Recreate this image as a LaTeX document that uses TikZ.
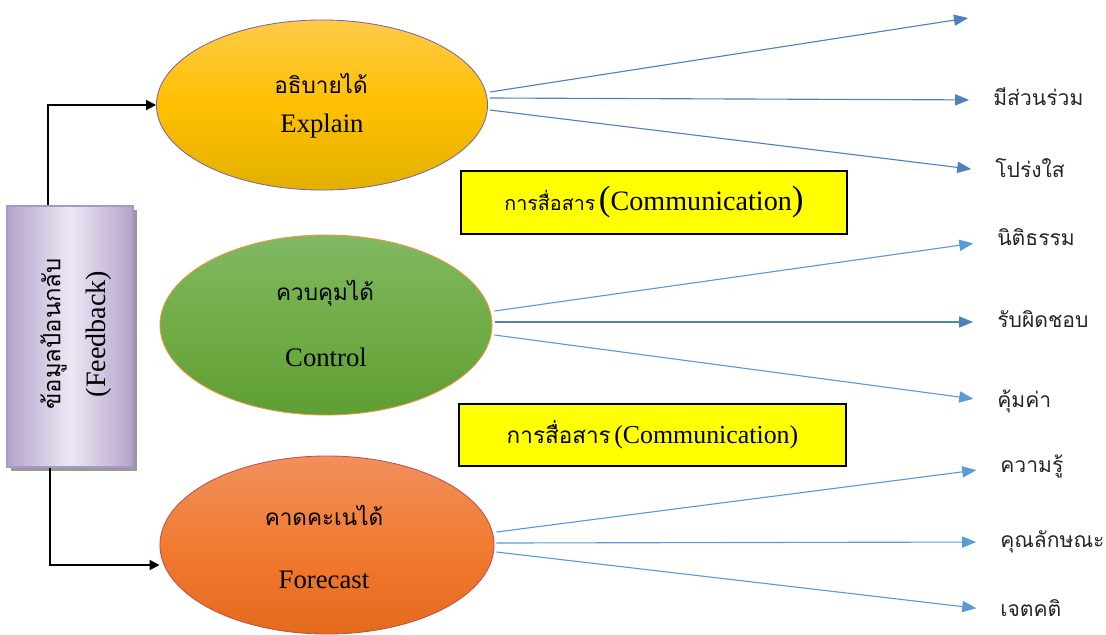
\documentclass[tikz,border=0pt]{standalone}
\usepackage{fontspec}
\setmainfont{Liberation Serif}
\newfontfamily\thai[Script=Thai]{Loma}
\usepackage{tikz}
\usetikzlibrary{arrows.meta, shapes.geometric, positioning, calc, shadows}

\definecolor{explaintop}{HTML}{FFCA48}
\definecolor{explainmid}{HTML}{FFC000}
\definecolor{explainbot}{HTML}{E2B000}
\definecolor{explainline}{HTML}{8064A2}
\definecolor{controltop}{HTML}{80B962}
\definecolor{controlmid}{HTML}{70AD47}
\definecolor{controlbot}{HTML}{5E9E32}
\definecolor{controlline}{HTML}{F79646}
\definecolor{forecasttop}{HTML}{F0905C}
\definecolor{forecastmid}{HTML}{F27B32}
\definecolor{forecastbot}{HTML}{E46A1C}
\definecolor{forecastline}{HTML}{C0504D}
\definecolor{fbside}{HTML}{B4A3CD}
\definecolor{fbmid}{HTML}{ECE8F3}
\definecolor{fbline}{HTML}{A897C8}
\definecolor{commfill}{HTML}{FFFF00}
\definecolor{arrowdark}{HTML}{4F81BD}
\definecolor{arrowlight}{HTML}{5B9BD5}

\begin{document}
\begin{tikzpicture}[x=0.025cm, y=-0.025cm,
  oval/.style={ellipse, draw, line width=0.6pt, inner sep=0pt},
  ovalth/.style={inner sep=0pt, font=\thai\fontsize{16}{19}\selectfont},
  ovalen/.style={inner sep=0pt, font=\fontsize{19}{23}\selectfont},
  lbl/.style={anchor=west, inner sep=0pt, text height=12pt, text depth=4pt,
    font=\thai\fontsize{15}{18}\selectfont, text=black!85},
  commbox/.style={draw, line width=0.8pt, fill=commfill, inner sep=0pt},
  blarrow/.style={-{Triangle[length=10pt,width=8pt]}, line width=0.8pt, shorten >=17pt},
  fbarrow/.style={-{Triangle[length=7pt,width=7pt]}, line width=1.3pt, black}
]
\useasboundingbox (0,0) rectangle (1106,634);

% Feedback box
\node[draw=fbline, line width=0.8pt, minimum width=3.15cm, minimum height=6.525cm,
  left color=fbside, right color=fbside, middle color=fbmid,
  drop shadow={shadow xshift=3pt, shadow yshift=-3pt, fill=black!40, opacity=1}]
  (fb) at (70,336.5) {};
\node[rotate=90, align=center, font=\fontsize{20}{32}\selectfont] (fbtext) at (76,334)
  {{\thai\fontsize{17}{20}\selectfont ข้อมูลป้อนกลับ}\\(Feedback)};

% Explain
\node[oval, draw=explainline, minimum width=8.275cm, minimum height=4.25cm,
  top color=explaintop, bottom color=explainbot, middle color=explainmid]
  (explain) at (322,105) {};
\node[ovalth] (explainth) at (321,83) {อธิบายได้};
\node[ovalen] (explainen) at (322,126) {Explain};

% Control
\node[oval, draw=controlline, minimum width=8.3cm, minimum height=4.5cm,
  top color=controltop, bottom color=controlbot, middle color=controlmid]
  (control) at (326,325) {};
\node[ovalth] (controlth) at (325,293) {ควบคุมได้};
\node[ovalen] (controlen) at (326,357) {Control};

% Forecast
\node[oval, draw=forecastline, minimum width=8.35cm, minimum height=4.45cm,
  top color=forecasttop, bottom color=forecastbot, middle color=forecastmid]
  (forecast) at (327,545) {};
\node[ovalth] (forecastth) at (324,515) {คาดคะเนได้};
\node[ovalen] (forecasten) at (324,580) {Forecast};

% Communication
\node[commbox, minimum width=9.65cm, minimum height=1.575cm] (comm1) at (654,202.5)
  {{\thai\fontsize{14}{17}\selectfont การสื่อสาร} {\fontsize{25}{29}\selectfont(}{\fontsize{20}{24}\selectfont Communication}{\fontsize{25}{29}\selectfont)}};
\node[commbox, minimum width=9.675cm, minimum height=1.55cm] (comm2) at (652.5,435)
  {{\thai\fontsize{16}{19}\selectfont การสื่อสาร} {\fontsize{18.4}{22}\selectfont (Communication)}};

% Labels
\coordinate (toptip) at (968,18);
\node[lbl] (participate) at (993,100) {มีส่วนร่วม};
\node[lbl] (transparent) at (995,172) {โปร่งใส};
\node[lbl] (rulelaw) at (997,240) {นิติธรรม};
\node[lbl] (account) at (997,322) {รับผิดชอบ};
\node[lbl] (worth) at (997,402) {คุ้มค่า};
\node[lbl] (knowledge) at (1000,467) {ความรู้};
\node[lbl] (trait) at (1000,542) {คุณลักษณะ};
\node[lbl] (attitude) at (1000,611) {เจตคติ};

% Feedback arrows
\draw[fbarrow] ($(fb.north)+(-22,0)$) |- (explain.west);
\draw[fbarrow] ($(fb.south)+(-20,0)$) |- ($(forecast.west)+(0,20)$);

% Explain arrows
\draw[blarrow, draw=arrowdark, shorten >=0pt] ($(explain.east)+(2,-13)$) -- (toptip);
\draw[blarrow, draw=arrowdark] ($(explain.east)+(2,-7)$) -- (participate.west);
\draw[blarrow, draw=arrowdark] ($(explain.east)+(2,5)$) -- (transparent.west);

% Control arrows
\draw[blarrow, draw=arrowlight] ($(control.east)+(2,-14)$) -- (rulelaw.west);
\draw[blarrow, draw=arrowdark] ($(control.east)+(3,-3)$) -- (account.west);
\draw[blarrow, draw=arrowlight] ($(control.east)+(2,10)$) -- (worth.west);

% Forecast arrows
\draw[blarrow, draw=arrowlight] ($(forecast.east)+(2,-13)$) -- (knowledge.west);
\draw[blarrow, draw=arrowlight] ($(forecast.east)+(2,-2)$) -- (trait.west);
\draw[blarrow, draw=arrowlight] ($(forecast.east)+(2,7)$) -- (attitude.west);
\end{tikzpicture}
\end{document}
